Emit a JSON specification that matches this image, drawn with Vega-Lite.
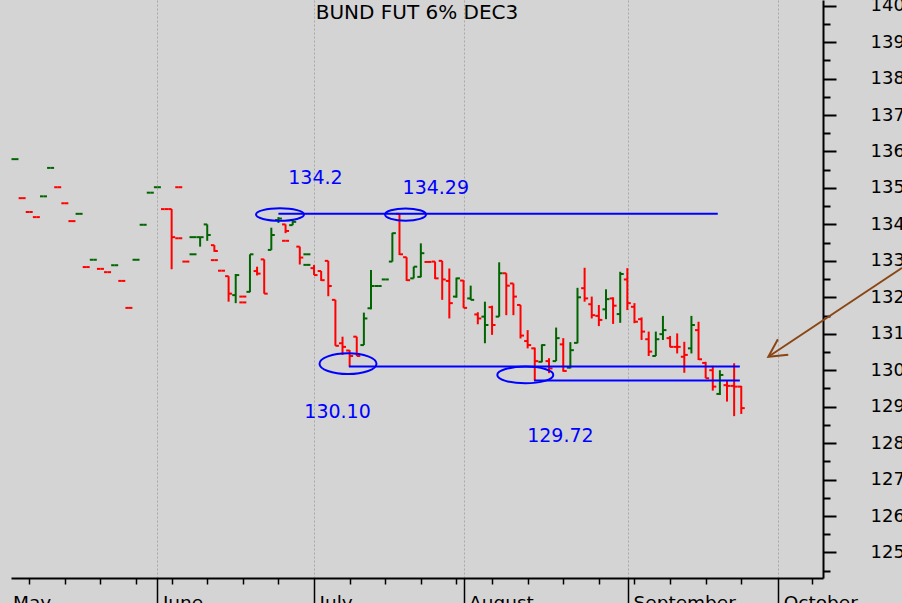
{
  "$schema": "https://vega.github.io/schema/vega-lite/v6.json",
  "width": 812,
  "height": 578,
  "autosize": {"type": "none"},
  "padding": {"left": 11, "top": 0, "right": 79, "bottom": 25},
  "background": "#d4d4d4",
  "title": {"text": "BUND FUT 6% DEC3", "font": "DejaVu Sans", "fontSize": 20, "fontWeight": "normal", "color": "black", "anchor": "middle", "offset": -26},
  "config": {"view": {"stroke": null}},
  "resolve": {"axis": {"y": "independent"}},
  "datasets": {
    "bars": [
      {"i":0,"o":135.79,"h":135.79,"l":135.79,"c":135.79,"dir":"up"},
      {"i":1,"o":134.72,"h":134.72,"l":134.72,"c":134.72,"dir":"down"},
      {"i":2,"o":134.34,"h":134.34,"l":134.34,"c":134.34,"dir":"down"},
      {"i":3,"o":134.2,"h":134.2,"l":134.2,"c":134.2,"dir":"down"},
      {"i":4,"o":134.77,"h":134.77,"l":134.77,"c":134.77,"dir":"up"},
      {"i":5,"o":135.55,"h":135.55,"l":135.55,"c":135.55,"dir":"up"},
      {"i":6,"o":135.02,"h":135.02,"l":135.02,"c":135.02,"dir":"down"},
      {"i":7,"o":134.58,"h":134.58,"l":134.58,"c":134.58,"dir":"down"},
      {"i":8,"o":134.09,"h":134.09,"l":134.09,"c":134.09,"dir":"down"},
      {"i":9,"o":134.29,"h":134.29,"l":134.29,"c":134.29,"dir":"up"},
      {"i":10,"o":132.83,"h":132.83,"l":132.83,"c":132.83,"dir":"down"},
      {"i":11,"o":133.03,"h":133.03,"l":133.03,"c":133.03,"dir":"up"},
      {"i":12,"o":132.78,"h":132.78,"l":132.78,"c":132.78,"dir":"down"},
      {"i":13,"o":132.69,"h":132.69,"l":132.69,"c":132.69,"dir":"down"},
      {"i":14,"o":132.88,"h":132.88,"l":132.88,"c":132.88,"dir":"up"},
      {"i":15,"o":132.45,"h":132.45,"l":132.45,"c":132.45,"dir":"down"},
      {"i":16,"o":131.71,"h":131.71,"l":131.71,"c":131.71,"dir":"down"},
      {"i":17,"o":133.03,"h":133.03,"l":133.03,"c":133.03,"dir":"up"},
      {"i":18,"o":133.99,"h":133.99,"l":133.99,"c":133.99,"dir":"up"},
      {"i":19,"o":134.87,"h":134.87,"l":134.87,"c":134.87,"dir":"up"},
      {"i":20,"o":135.02,"h":135.02,"l":135.02,"c":135.02,"dir":"up"},
      {"i":21,"o":134.42,"h":134.42,"l":134.42,"c":134.42,"dir":"down"},
      {"i":22,"o":134.42,"h":134.42,"l":132.77,"c":133.65,"dir":"down"},
      {"i":23,"o":135.02,"h":135.02,"l":135.02,"c":135.02,"dir":"down"},
      {"i":23,"o":133.62,"h":133.62,"l":133.62,"c":133.62,"dir":"down"},
      {"i":24,"o":132.98,"h":132.98,"l":132.98,"c":132.98,"dir":"down"},
      {"i":25,"o":133.65,"h":133.65,"l":133.65,"c":133.65,"dir":"up"},
      {"i":25,"o":133.18,"h":133.18,"l":133.18,"c":133.18,"dir":"up"},
      {"i":26,"o":133.65,"h":133.65,"l":133.39,"c":133.65,"dir":"up"},
      {"i":27,"o":134.0,"h":134.0,"l":133.55,"c":133.71,"dir":"up"},
      {"i":28,"o":133.43,"h":133.43,"l":133.25,"c":133.27,"dir":"down"},
      {"i":28,"o":133.02,"h":133.02,"l":133.02,"c":133.02,"dir":"down"},
      {"i":29,"o":132.73,"h":132.73,"l":132.73,"c":132.73,"dir":"down"},
      {"i":30,"o":132.58,"h":132.58,"l":131.88,"c":132.1,"dir":"down"},
      {"i":31,"o":132.06,"h":132.64,"l":131.84,"c":132.61,"dir":"up"},
      {"i":32,"o":132.02,"h":132.02,"l":132.02,"c":132.02,"dir":"down"},
      {"i":32,"o":131.86,"h":131.86,"l":131.86,"c":131.86,"dir":"down"},
      {"i":33,"o":132.15,"h":133.18,"l":132.14,"c":133.18,"dir":"up"},
      {"i":34,"o":132.72,"h":132.84,"l":132.6,"c":132.65,"dir":"down"},
      {"i":35,"o":133.04,"h":133.04,"l":132.1,"c":132.1,"dir":"down"},
      {"i":36,"o":133.3,"h":133.91,"l":133.3,"c":133.71,"dir":"up"},
      {"i":37,"o":134.12,"h":134.2,"l":134.04,"c":134.16,"dir":"up"},
      {"i":38,"o":134.0,"h":134.0,"l":133.76,"c":133.82,"dir":"down"},
      {"i":38,"o":133.55,"h":133.55,"l":133.55,"c":133.55,"dir":"down"},
      {"i":39,"o":133.98,"h":134.12,"l":133.98,"c":134.07,"dir":"up"},
      {"i":40,"o":133.39,"h":133.39,"l":132.9,"c":133.09,"dir":"down"},
      {"i":41,"o":133.18,"h":133.18,"l":133.18,"c":133.18,"dir":"up"},
      {"i":41,"o":132.89,"h":132.89,"l":132.89,"c":132.89,"dir":"up"},
      {"i":42,"o":132.8,"h":132.89,"l":132.61,"c":132.61,"dir":"down"},
      {"i":43,"o":132.72,"h":132.72,"l":132.45,"c":132.47,"dir":"down"},
      {"i":44,"o":133.0,"h":133.0,"l":132.03,"c":132.31,"dir":"down"},
      {"i":45,"o":131.93,"h":131.93,"l":130.67,"c":130.67,"dir":"down"},
      {"i":46,"o":130.74,"h":130.92,"l":130.42,"c":130.64,"dir":"down"},
      {"i":47,"o":130.54,"h":130.55,"l":130.1,"c":130.39,"dir":"down"},
      {"i":48,"o":130.92,"h":130.92,"l":130.39,"c":130.39,"dir":"down"},
      {"i":49,"o":130.69,"h":131.58,"l":130.69,"c":131.42,"dir":"up"},
      {"i":50,"o":131.7,"h":132.75,"l":131.67,"c":132.31,"dir":"up"},
      {"i":51,"o":132.31,"h":132.31,"l":132.31,"c":132.31,"dir":"up"},
      {"i":52,"o":132.49,"h":132.49,"l":132.49,"c":132.49,"dir":"up"},
      {"i":53,"o":132.98,"h":133.77,"l":132.98,"c":133.76,"dir":"up"},
      {"i":54,"o":134.29,"h":134.29,"l":133.16,"c":133.18,"dir":"down"},
      {"i":55,"o":133.1,"h":133.1,"l":132.45,"c":132.47,"dir":"down"},
      {"i":56,"o":132.52,"h":132.84,"l":132.52,"c":132.84,"dir":"up"},
      {"i":57,"o":132.56,"h":133.48,"l":132.55,"c":133.21,"dir":"up"},
      {"i":58,"o":132.97,"h":132.97,"l":132.97,"c":132.97,"dir":"down"},
      {"i":59,"o":132.98,"h":132.98,"l":132.5,"c":132.52,"dir":"down"},
      {"i":60,"o":133.0,"h":133.0,"l":131.93,"c":132.49,"dir":"down"},
      {"i":61,"o":132.45,"h":132.79,"l":131.42,"c":131.84,"dir":"down"},
      {"i":62,"o":132.02,"h":132.54,"l":131.99,"c":132.52,"dir":"up"},
      {"i":63,"o":132.46,"h":132.47,"l":131.71,"c":131.71,"dir":"down"},
      {"i":64,"o":131.97,"h":132.32,"l":131.93,"c":131.93,"dir":"up"},
      {"i":65,"o":131.53,"h":131.59,"l":131.26,"c":131.42,"dir":"down"},
      {"i":66,"o":131.47,"h":131.88,"l":130.74,"c":131.24,"dir":"up"},
      {"i":67,"o":131.73,"h":131.77,"l":130.97,"c":131.24,"dir":"down"},
      {"i":68,"o":131.47,"h":132.96,"l":131.47,"c":132.66,"dir":"up"},
      {"i":69,"o":132.66,"h":132.66,"l":131.51,"c":132.32,"dir":"down"},
      {"i":70,"o":132.38,"h":132.38,"l":131.51,"c":132.02,"dir":"down"},
      {"i":71,"o":131.79,"h":131.79,"l":130.87,"c":130.95,"dir":"down"},
      {"i":72,"o":130.8,"h":131.1,"l":130.6,"c":130.69,"dir":"down"},
      {"i":73,"o":130.6,"h":130.62,"l":129.72,"c":130.25,"dir":"down"},
      {"i":74,"o":130.23,"h":130.71,"l":130.22,"c":130.69,"dir":"up"},
      {"i":75,"o":130.25,"h":130.33,"l":129.92,"c":130.05,"dir":"down"},
      {"i":76,"o":130.25,"h":131.17,"l":130.25,"c":130.88,"dir":"up"},
      {"i":77,"o":130.71,"h":130.88,"l":129.96,"c":129.98,"dir":"down"},
      {"i":78,"o":130.07,"h":130.77,"l":130.05,"c":130.55,"dir":"up"},
      {"i":79,"o":130.75,"h":132.26,"l":130.74,"c":132.0,"dir":"up"},
      {"i":80,"o":132.25,"h":132.81,"l":131.88,"c":131.97,"dir":"down"},
      {"i":81,"o":131.81,"h":132.02,"l":131.42,"c":131.51,"dir":"down"},
      {"i":82,"o":131.49,"h":131.79,"l":131.21,"c":131.38,"dir":"down"},
      {"i":83,"o":131.67,"h":132.22,"l":131.4,"c":131.95,"dir":"up"},
      {"i":84,"o":131.97,"h":132.0,"l":131.27,"c":131.77,"dir":"down"},
      {"i":85,"o":131.54,"h":132.7,"l":131.3,"c":132.64,"dir":"up"},
      {"i":86,"o":132.49,"h":132.8,"l":131.65,"c":131.84,"dir":"down"},
      {"i":87,"o":131.74,"h":131.84,"l":131.29,"c":131.33,"dir":"down"},
      {"i":88,"o":131.4,"h":131.45,"l":130.83,"c":131.06,"dir":"down"},
      {"i":89,"o":130.85,"h":131.06,"l":130.39,"c":130.51,"dir":"down"},
      {"i":90,"o":130.39,"h":131.06,"l":130.39,"c":130.85,"dir":"up"},
      {"i":91,"o":130.99,"h":131.49,"l":130.83,"c":131.1,"dir":"up"},
      {"i":92,"o":130.88,"h":130.94,"l":130.63,"c":130.64,"dir":"down"},
      {"i":93,"o":130.64,"h":131.01,"l":130.46,"c":130.64,"dir":"down"},
      {"i":94,"o":130.37,"h":130.78,"l":129.93,"c":130.42,"dir":"down"},
      {"i":95,"o":130.6,"h":131.49,"l":130.46,"c":131.24,"dir":"up"},
      {"i":96,"o":131.1,"h":131.33,"l":130.28,"c":130.3,"dir":"down"},
      {"i":97,"o":130.2,"h":130.23,"l":129.78,"c":129.78,"dir":"down"},
      {"i":98,"o":130.0,"h":130.12,"l":129.44,"c":129.55,"dir":"down"},
      {"i":99,"o":129.35,"h":130.0,"l":129.32,"c":129.87,"dir":"up"},
      {"i":100,"o":129.59,"h":129.73,"l":129.14,"c":129.57,"dir":"down"},
      {"i":101,"o":129.57,"h":130.19,"l":128.74,"c":129.55,"dir":"down"},
      {"i":102,"o":129.55,"h":129.57,"l":128.8,"c":128.96,"dir":"down"}
    ],
    "levels": [
      {"from": 37.0, "to": 98.7, "p": 134.29},
      {"from": 46.9, "to": 101.8, "p": 130.1},
      {"from": 72.9, "to": 101.8, "p": 129.72}
    ],
    "labels": [
      {"at": 42.2, "p": 135.27, "text": "134.2"},
      {"at": 59.1, "p": 134.99, "text": "134.29"},
      {"at": 45.3, "p": 128.85, "text": "130.10"},
      {"at": 76.6, "p": 128.19, "text": "129.72"}
    ],
    "arrow": [
      {"from": 124.6, "to": 105.8, "p1": 132.81, "p2": 130.37}
    ]
  },
  "layer": [
    {
      "data": {"name": "bars"},
      "mark": {"type": "rule", "strokeWidth": 2},
      "encoding": {
        "x": {
          "field": "i", "type": "quantitative", "title": null,
          "scale": {"domain": [-0.56, 113.48], "nice": false, "zero": false},
          "axis": {
            "values": [-0.5, 2, 7, 12, 17, 20, 22, 27, 32, 37, 42, 47, 52, 57, 62, 63, 67, 72, 77, 82, 86.1, 87, 92, 97, 102, 107.2, 112],
            "tickCount": 500,
            "labelExpr": "datum.value == -0.5 ? 'May' : datum.value == 20 ? 'June' : datum.value == 42 ? 'July' : datum.value == 63 ? 'August' : datum.value == 86.1 ? 'September' : datum.value == 107.2 ? 'October' : ''",
            "title": null,
            "grid": true,
            "gridColor": "#a8a8a8",
            "gridDash": [2, 2],
            "gridWidth": 1,
            "gridOpacity": {"condition": {"test": "indexof([20, 42, 63, 86.1, 107.2], datum.value) >= 0", "value": 1}, "value": 0},
            "tickSize": {"condition": {"test": "indexof([-0.5, 20, 42, 63, 86.1, 107.2], datum.value) >= 0", "value": 30}, "value": 6},
            "tickOpacity": {"condition": {"test": "datum.value == -0.5", "value": 0}, "value": 1},
            "tickColor": "black",
            "tickWidth": 1.5,
            "domainColor": "black",
            "domainWidth": 2,
            "labelAlign": "left",
            "labelBaseline": "top",
            "labelOffset": {"condition": {"test": "datum.value == -0.5", "value": 1}, "value": 5},
            "labelPadding": -15,
            "labelFont": "DejaVu Sans",
            "labelFontSize": 18.5,
            "labelColor": "black",
            "labelOverlap": false,
            "labelFlush": false,
            "labelBound": false
          }
        },
        "y": {
          "field": "l", "type": "quantitative", "title": null,
          "scale": {"domain": [124.3, 140.156], "nice": false, "zero": false},
          "axis": {
            "orient": "right",
            "values": [125, 126, 127, 128, 129, 130, 131, 132, 133, 134, 135, 136, 137, 138, 139, 140],
            "tickCount": 500,
            "format": "d",
            "title": null,
            "grid": false,
            "tickSize": 13,
            "tickColor": "black",
            "tickWidth": 2,
            "domainColor": "black",
            "domainWidth": 2,
            "labelPadding": 34,
            "labelFont": "DejaVu Sans",
            "labelFontSize": 18,
            "labelColor": "black",
            "labelOverlap": false,
            "labelFlush": false,
            "labelBound": false
          }
        },
        "y2": {"field": "h"},
        "color": {"field": "dir", "type": "nominal", "scale": {"domain": ["up", "down"], "range": ["#006400", "#ff0000"]}, "legend": null}
      }
    },
    {
      "data": {"name": "bars"},
      "mark": {"type": "rule", "strokeWidth": 2, "x2Offset": -3.5},
      "encoding": {
        "x": {"field": "i", "type": "quantitative", "title": null},
        "x2": {"field": "i"},
        "y": {
          "field": "o", "type": "quantitative", "title": null,
          "axis": {
            "orient": "right",
            "values": [124.5, 125.5, 126.5, 127.5, 128.5, 129.5, 130.5, 131.5, 132.5, 133.5, 134.5, 135.5, 136.5, 137.5, 138.5, 139.5],
            "tickCount": 500,
            "title": null,
            "grid": false,
            "labels": false,
            "domain": false,
            "tickSize": 7,
            "tickColor": "black",
            "tickWidth": 2
          }
        },
        "color": {"field": "dir", "type": "nominal", "legend": null}
      }
    },
    {
      "data": {"name": "bars"},
      "mark": {"type": "rule", "strokeWidth": 2, "x2Offset": 3.5},
      "encoding": {
        "x": {"field": "i", "type": "quantitative", "title": null},
        "x2": {"field": "i"},
        "y": {"field": "c", "type": "quantitative", "axis": null},
        "color": {"field": "dir", "type": "nominal", "legend": null}
      }
    },
    {
      "data": {"name": "levels"},
      "mark": {"type": "rule", "strokeWidth": 2, "color": "#0000ff"},
      "encoding": {
        "x": {"field": "from", "type": "quantitative", "title": null},
        "x2": {"field": "to"},
        "y": {"field": "p", "type": "quantitative", "axis": null}
      }
    },
    {
      "data": {"values": [{"at": 37.22, "p": 134.27}]},
      "mark": {"type": "point", "filled": false, "opacity": 1, "stroke": "#0000ff", "strokeWidth": 2, "size": 2304,
               "shape": "M -1 0 C -1 -0.1436 -0.5523 -0.26 0 -0.26 C 0.5523 -0.26 1 -0.1436 1 0 C 1 0.1436 0.5523 0.26 0 0.26 C -0.5523 0.26 -1 0.1436 -1 0 Z"},
      "encoding": {
        "x": {"field": "at", "type": "quantitative", "title": null},
        "y": {"field": "p", "type": "quantitative", "axis": null}
      }
    },
    {
      "data": {"values": [{"at": 54.85, "p": 134.27}]},
      "mark": {"type": "point", "filled": false, "opacity": 1, "stroke": "#0000ff", "strokeWidth": 2, "size": 1681,
               "shape": "M -1 0 C -1 -0.166 -0.5523 -0.3 0 -0.3 C 0.5523 -0.3 1 -0.166 1 0 C 1 0.166 0.5523 0.3 0 0.3 C -0.5523 0.3 -1 0.166 -1 0 Z"},
      "encoding": {
        "x": {"field": "at", "type": "quantitative", "title": null},
        "y": {"field": "p", "type": "quantitative", "axis": null}
      }
    },
    {
      "data": {"values": [{"at": 46.77, "p": 130.18}]},
      "mark": {"type": "point", "filled": false, "opacity": 1, "stroke": "#0000ff", "strokeWidth": 2, "size": 3249,
               "shape": "M -1 0 C -1 -0.2005 -0.5523 -0.363 0 -0.363 C 0.5523 -0.363 1 -0.2005 1 0 C 1 0.2005 0.5523 0.363 0 0.363 C -0.5523 0.363 -1 0.2005 -1 0 Z"},
      "encoding": {
        "x": {"field": "at", "type": "quantitative", "title": null},
        "y": {"field": "p", "type": "quantitative", "axis": null}
      }
    },
    {
      "data": {"values": [{"at": 71.67, "p": 129.87}]},
      "mark": {"type": "point", "filled": false, "opacity": 1, "stroke": "#0000ff", "strokeWidth": 2, "size": 3136,
               "shape": "M -1 0 C -1 -0.1646 -0.5523 -0.298 0 -0.298 C 0.5523 -0.298 1 -0.1646 1 0 C 1 0.1646 0.5523 0.298 0 0.298 C -0.5523 0.298 -1 0.1646 -1 0 Z"},
      "encoding": {
        "x": {"field": "at", "type": "quantitative", "title": null},
        "y": {"field": "p", "type": "quantitative", "axis": null}
      }
    },
    {
      "data": {"name": "labels"},
      "mark": {"type": "text", "font": "DejaVu Sans", "fontSize": 19, "color": "#0000ff", "align": "center", "baseline": "middle"},
      "encoding": {
        "x": {"field": "at", "type": "quantitative", "title": null},
        "y": {"field": "p", "type": "quantitative", "axis": null},
        "text": {"field": "text"}
      }
    },
    {
      "data": {"name": "arrow"},
      "mark": {"type": "rule", "strokeWidth": 2, "color": "#8b4513", "clip": false},
      "encoding": {
        "x": {"field": "from", "type": "quantitative", "title": null},
        "x2": {"field": "to"},
        "y": {"field": "p1", "type": "quantitative", "axis": null},
        "y2": {"field": "p2"}
      }
    },
    {
      "data": {"name": "arrow"},
      "mark": {"type": "point", "filled": false, "opacity": 1, "stroke": "#8b4513", "strokeWidth": 2, "size": 1600, "angle": -33.4,
               "shape": "M 0.883 -0.469 L 0 0 L 0.883 0.469"},
      "encoding": {
        "x": {"field": "to", "type": "quantitative", "title": null},
        "y": {"field": "p2", "type": "quantitative", "axis": null}
      }
    }
  ]
}
